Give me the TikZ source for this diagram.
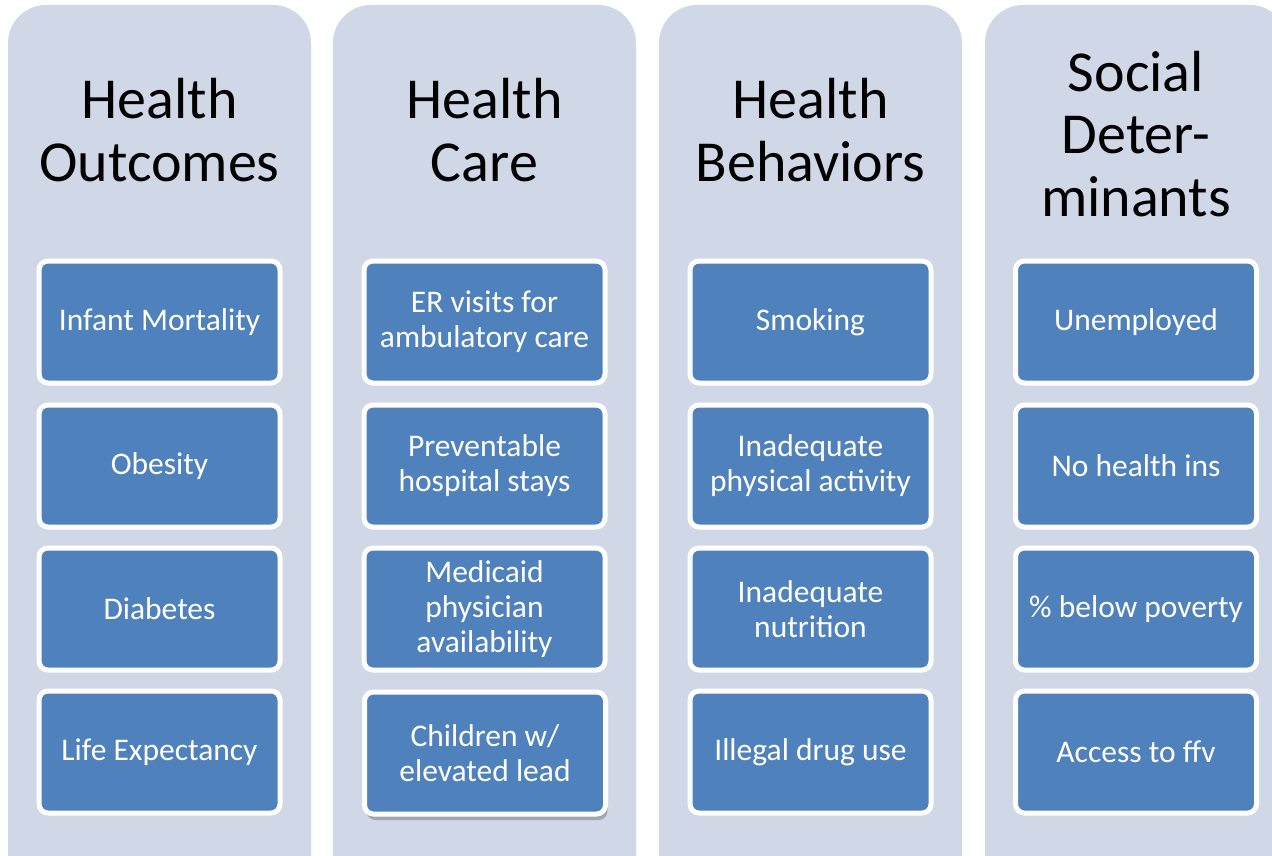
\documentclass[tikz,border=0pt]{standalone}
\usepackage{fontspec}
\setmainfont{Carlito}
\usetikzlibrary{shadows}
\definecolor{colbg}{HTML}{D0D8E8}
\definecolor{boxblue}{HTML}{4F81BD}
\begin{document}
\begin{tikzpicture}[x=1pt,y=-1pt,
  column/.style={fill=colbg, draw=none, rounded corners=38pt},
  header/.style={align=center, font=\fontsize{58}{62.5}\selectfont, text=black},
  item/.style={draw=white, line width=5pt, fill=boxblue, rounded corners=9pt,
    minimum width=241pt, minimum height=122pt, align=center, text=white,
    font=\fontsize{31.5}{35}\selectfont, inner sep=2pt},
  shadowed/.style={drop shadow={shadow xshift=2pt, shadow yshift=-6pt, opacity=0.35, fill=black!70}}
]
\useasboundingbox (0,0) rectangle (1272,856);
\fill[white] (0,0) rectangle (1272,856);
\foreach \x in {8,333,659,985}{
  \fill[column] (\x,5) rectangle ++(303,900);
}
\node[header] (h1) at (159.5,130) {Health\\Outcomes};
\node[header] (h2) at (484.5,130) {Health\\Care};
\node[header] (h3) at (810.5,130) {Health\\Behaviors};
\node[header] (h4) at (1136,134) {Social\\Deter-\\minants};

\node[item] (a1) at (159.5,322) {Infant Mortality};
\node[item] (a2) at (159.5,466) {Obesity};
\node[item] (a3) at (159.5,609) {Diabetes};
\node[item] (a4) at (159.5,752) {Life Expectancy};

\node[item] (b1) at (484.5,322) {ER visits for\\ambulatory care};
\node[item] (b2) at (484.5,466) {Preventable\\hospital stays};
\node[item] (b3) at (484.5,609) {Medicaid\\physician\\availability};
\node[item, shadowed] (b4) at (485,753) {Children w/\\elevated lead};

\node[item] (c1) at (810.5,322) {Smoking};
\node[item] (c2) at (810.5,466) {Inadequate\\physical activity};
\node[item] (c3) at (810.5,609) {Inadequate\\nutrition};
\node[item] (c4) at (810.5,752) {Illegal drug use};

\node[item] (d1) at (1136,322) {Unemployed};
\node[item] (d2) at (1136,466) {No health ins};
\node[item] (d3) at (1136,609) {\% below poverty};
\node[item] (d4) at (1136,752) {Access to ffv};
\end{tikzpicture}
\end{document}
